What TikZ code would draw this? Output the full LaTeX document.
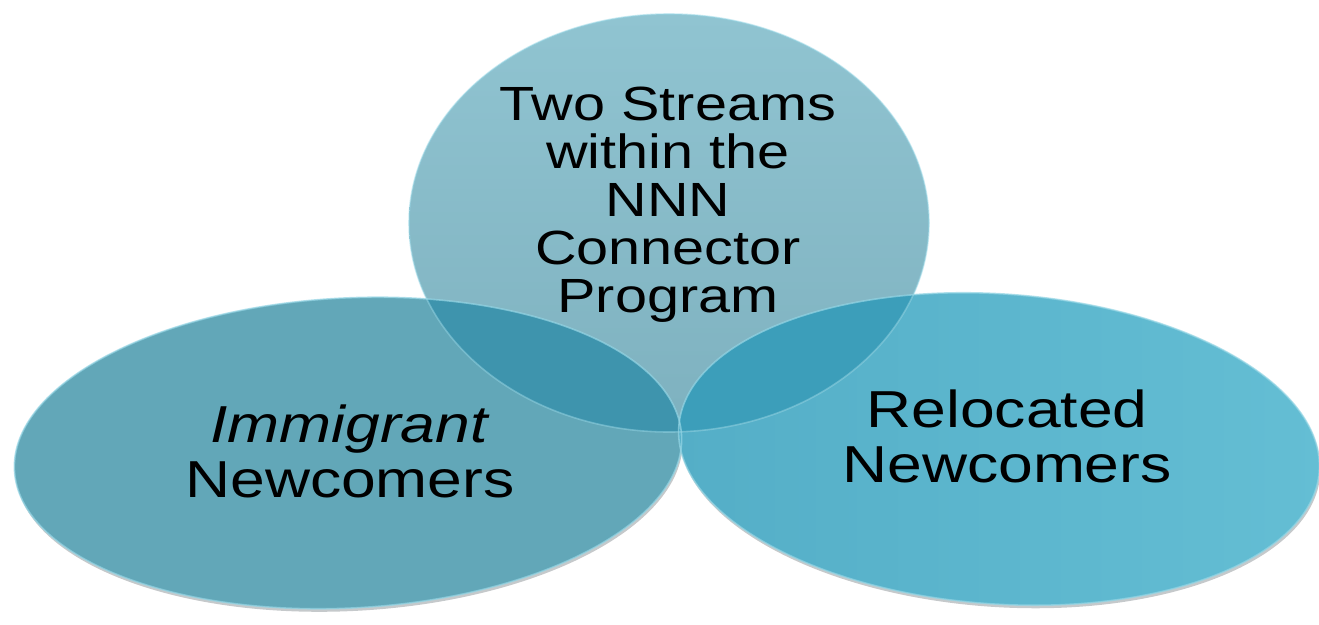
\documentclass[tikz,border=0pt]{standalone}
\usepackage{fontspec}
\newfontfamily\streamfont[FakeStretch=1.2]{Liberation Sans}
\definecolor{topfill}{RGB}{126,177,191}
\definecolor{toplight}{RGB}{144,196,209}
\definecolor{leftfill}{RGB}{98,167,184}
\definecolor{rightfill}{RGB}{84,174,199}
\definecolor{rightlight}{RGB}{100,190,212}
\definecolor{leftdark}{RGB}{62,148,173}
\definecolor{rightdark}{RGB}{60,158,186}
\definecolor{rimlight}{RGB}{150,214,229}
\definecolor{shadowgray}{RGB}{90,100,105}

\begin{document}
\begin{tikzpicture}
  [x=1pt,y=-1pt,
   every node/.style={font=\streamfont,align=center,text=black},
   rim/.style={draw=rimlight,line width=1.6pt,opacity=.7}]
  \useasboundingbox (0,0) rectangle (1319,624);

  % shadows under the two lower discs
  \fill[shadowgray,opacity=.35,rotate around={3:(349,456)}] (349,456) ellipse [x radius=334, y radius=155];
  \fill[shadowgray,opacity=.35,rotate around={-4:(1000,452)}] (1000,452) ellipse [x radius=321, y radius=155];

  % the three discs
  \fill[leftfill,rotate around={3:(348,453)}] (348,453) ellipse [x radius=334, y radius=155];
  \shade[left color=rightfill,right color=rightlight,rotate around={-4:(999,449)}] (999,449) ellipse [x radius=321, y radius=155];
  \shade[top color=toplight,bottom color=topfill] (669,223) ellipse [x radius=260, y radius=209];

  % overlaps
  \begin{scope}
    \clip (669,223) ellipse [x radius=260, y radius=209];
    \fill[leftdark,rotate around={3:(348,453)}] (348,453) ellipse [x radius=334, y radius=155];
    \fill[rightdark,rotate around={-4:(999,449)}] (999,449) ellipse [x radius=321, y radius=155];
  \end{scope}

  % rims
  \draw[rim,rotate around={3:(348,453)}] (348,453) ellipse [x radius=334, y radius=155];
  \draw[rim,rotate around={-4:(999,449)}] (999,449) ellipse [x radius=321, y radius=155];
  \draw[rim,opacity=.5] (669,223) ellipse [x radius=260, y radius=209];

  % labels
  \node[font=\streamfont\fontsize{48}{48}\selectfont] (streams) at (668,205)
    {Two Streams\\within the\\NNN\\Connector\\Program};
  \node[font=\streamfont\fontsize{52}{55}\selectfont] (immigrant) at (350,451)
    {\textit{Immigrant}\\Newcomers};
  \node[font=\streamfont\fontsize{52}{55}\selectfont] (relocated) at (1007,436)
    {Relocated\\Newcomers};
\end{tikzpicture}
\end{document}
